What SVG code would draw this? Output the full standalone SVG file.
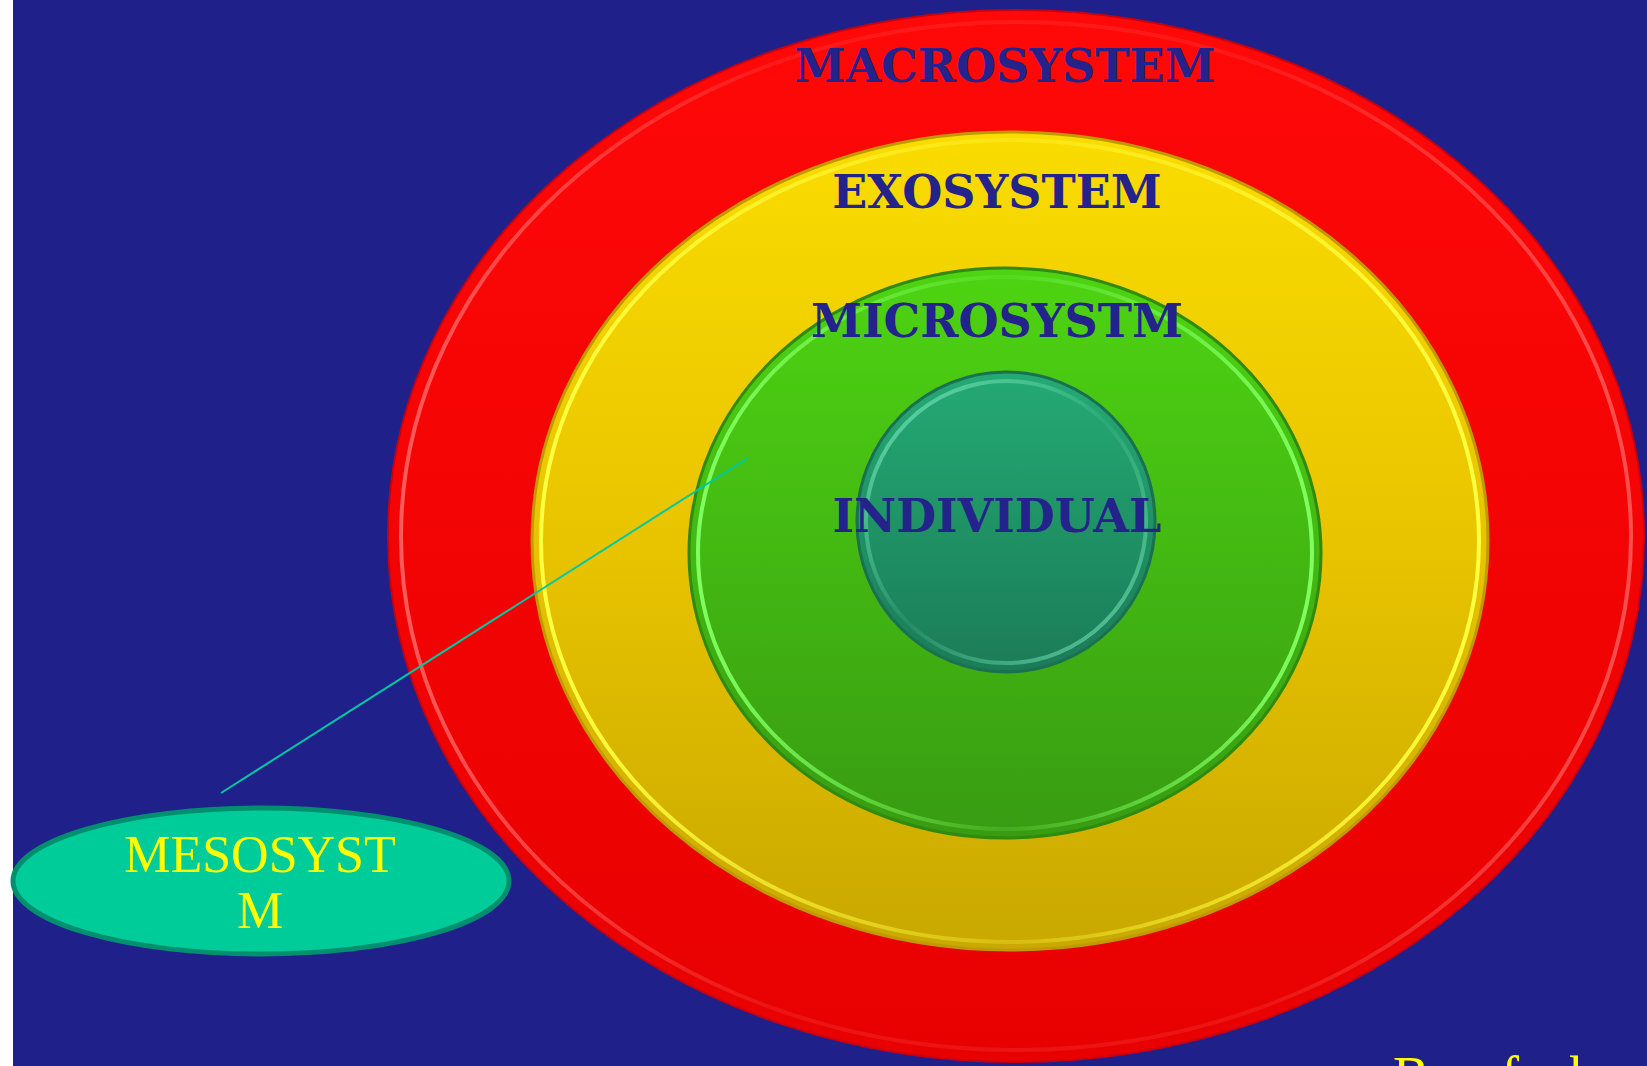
<svg xmlns="http://www.w3.org/2000/svg" width="1647" height="1066" viewBox="0 0 1647 1066">
<defs>
<linearGradient id="gRed" x1="0" y1="0" x2="0" y2="1"><stop offset="0" stop-color="#ff0808"/><stop offset="1" stop-color="#e80000"/></linearGradient>
<linearGradient id="gYel" x1="0" y1="0" x2="0" y2="1"><stop offset="0" stop-color="#fadc00"/><stop offset="0.5" stop-color="#e8c400"/><stop offset="1" stop-color="#c9a800"/></linearGradient>
<linearGradient id="gGrn" x1="0" y1="0" x2="0" y2="1"><stop offset="0" stop-color="#4ed412"/><stop offset="1" stop-color="#389c12"/></linearGradient>
<linearGradient id="gTeal" x1="0" y1="0" x2="0" y2="1"><stop offset="0" stop-color="#24aa74"/><stop offset="1" stop-color="#1b7c58"/></linearGradient>
<linearGradient id="rimRed" x1="0" y1="0" x2="1" y2="0"><stop offset="0" stop-color="#ff8080" stop-opacity="0.7"/><stop offset="0.3" stop-color="#ff8080" stop-opacity="0.15"/><stop offset="0.7" stop-color="#ff8080" stop-opacity="0.15"/><stop offset="1" stop-color="#ff8080" stop-opacity="0.6"/></linearGradient>
<linearGradient id="rimYel" x1="0" y1="0" x2="1" y2="0"><stop offset="0" stop-color="#ffff40"/><stop offset="0.5" stop-color="#ffff40" stop-opacity="0.25"/><stop offset="1" stop-color="#ffff40"/></linearGradient>
<linearGradient id="rimGrn" x1="0" y1="0" x2="1" y2="0"><stop offset="0" stop-color="#80ff60"/><stop offset="0.5" stop-color="#80ff60" stop-opacity="0.15"/><stop offset="1" stop-color="#80ff60"/></linearGradient>
<linearGradient id="rimTeal" x1="0" y1="0" x2="1" y2="1"><stop offset="0" stop-color="#70e0b0" stop-opacity="0.9"/><stop offset="0.5" stop-color="#70e0b0" stop-opacity="0.1"/><stop offset="1" stop-color="#70e0b0" stop-opacity="0.8"/></linearGradient>
</defs>
<style>
.lbl{font-family:"DejaVu Serif",serif;font-weight:bold;font-size:46px;fill:#23238b;text-anchor:middle}
.meso{font-family:"Liberation Serif",serif;font-size:52px;fill:#ffff00;text-anchor:middle}
.rim{fill:none;stroke-width:4}
</style>
<rect x="0" y="0" width="1647" height="1066" fill="#ffffff"/>
<rect x="13" y="0" width="1634" height="1066" fill="#20208a"/>

<g id="macrosystem">
<ellipse cx="1016" cy="536" rx="628" ry="526" fill="url(#gRed)" stroke="#c80010" stroke-width="2"/>
<ellipse class="rim" cx="1016" cy="536" rx="615" ry="514" stroke="url(#rimRed)"/>
<text class="lbl" x="1005" y="82">MACROSYSTEM</text>
</g>
<g id="exosystem">
<ellipse cx="1010" cy="541" rx="478" ry="409" fill="url(#gYel)" stroke="#c09a00" stroke-width="3"/>
<ellipse class="rim" cx="1010" cy="541" rx="469" ry="401" stroke="url(#rimYel)"/>
<text class="lbl" x="997" y="208">EXOSYSTEM</text>
</g>
<g id="microsystem">
<ellipse cx="1005" cy="553" rx="316" ry="285" fill="url(#gGrn)" stroke="#2f8a10" stroke-width="3"/>
<ellipse class="rim" cx="1005" cy="553" rx="307" ry="276" stroke="url(#rimGrn)"/>
<text class="lbl" x="997" y="337">MICROSYSTM</text>
</g>
<g id="individual">
<ellipse cx="1006" cy="522" rx="149" ry="150" fill="url(#gTeal)" stroke="#1a7050" stroke-width="3"/>
<ellipse class="rim" cx="1006" cy="522" rx="140" ry="141" stroke="url(#rimTeal)"/>
<text class="lbl" x="997" y="532">INDIVIDUAL</text>
</g>

<g id="connectors">
<line x1="221" y1="793" x2="748" y2="458" stroke="#00c8a0" stroke-width="2"/>
</g>

<g id="mesosystem">
<ellipse cx="261" cy="881" rx="248" ry="73" fill="#00cc99" stroke="#009070" stroke-width="5"/>
<text class="meso" x="260" y="872">MESOSYST</text>
<text class="meso" x="260" y="928">M</text>
</g>

<g id="credit">
<text x="1393" y="1094" font-family="Liberation Serif, serif" font-size="54" fill="#ffff00">Bronfenbrenner</text>
</g>
</svg>
